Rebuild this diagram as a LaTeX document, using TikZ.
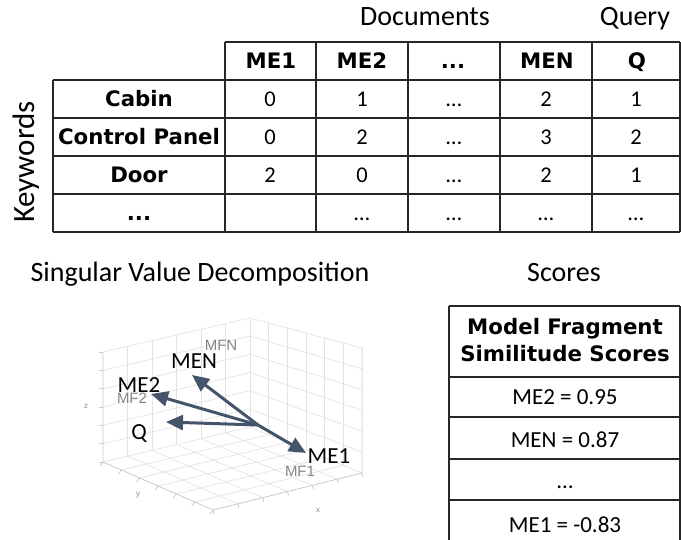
\documentclass[tikz,border=0pt]{standalone}
\usepackage{fontspec}
\setmainfont{Carlito}
\newfontfamily\headfont{DejaVu Sans}
\newfontfamily\plotfont{Liberation Sans}
\usetikzlibrary{arrows.meta,calc}
\definecolor{vec}{HTML}{44546A}
\definecolor{gridc}{HTML}{E3E3E3}
\definecolor{framec}{HTML}{CACACA}
\definecolor{mflabel}{HTML}{858585}

\begin{document}
\begin{tikzpicture}[x=1pt,y=-1pt,
  title/.style={font=\fontsize{28}{31}\selectfont, inner sep=0, anchor=base},
  hdr/.style={font=\headfont\bfseries\fontsize{21.3}{24}\selectfont, inner sep=0, anchor=base},
  val/.style={font=\fontsize{22.5}{24}\selectfont, inner sep=0, anchor=base},
  score/.style={font=\fontsize{23}{26}\selectfont, inner sep=0, anchor=base},
  rule/.style={line width=1.4pt, draw=black!85},
  gridline/.style={draw=gridc, line width=0.7pt},
  frameline/.style={draw=framec, line width=0.8pt},
  vector/.style={draw=vec, line width=3pt, -{Triangle[length=17pt,width=15pt]}},
  ptlabel/.style={font=\fontsize{23}{26}\selectfont, inner sep=0},
  mflab/.style={font=\plotfont\fontsize{15}{17}\selectfont, text=mflabel, inner sep=0},
  axlab/.style={font=\plotfont\fontsize{8}{9}\selectfont, text=black!45, inner sep=0}
]
\useasboundingbox (0,0) rectangle (681,540);

% ---------- section titles ----------
\node[title] (tdocs) at (425,26) {Documents};
\node[title] (tquery) at (635,26) {Query};
\node[title] (tsvd) at (200,282) {Singular Value Decomposition};
\node[title] (tscores) at (564,282) {Scores};
\node[font=\fontsize{31}{34}\selectfont, rotate=90, inner sep=0] (tkw) at (26,162) {Keywords};

% ---------- term-document matrix ----------
\draw[rule] (225,42) -- (680,42);
\foreach \yy in {80,118,156,194,232} \draw[rule] (53,\yy) -- (680,\yy);
\draw[rule] (53,80) -- (53,232);
\foreach \xx in {225,316,408,500,592,680} \draw[rule] (\xx,42) -- (\xx,232);

% column headers
\node[hdr] (hme1) at (271,69) {ME1};
\node[hdr] (hme2) at (362,69) {ME2};
\node[hdr] (hdots) at (453,69) {...};
\node[hdr] (hmen) at (547,69) {MEN};
\node[hdr] (hq) at (637,69) {Q};

% row headers
\node[hdr] (kcabin) at (139,107) {Cabin};
\node[hdr] (kpanel) at (139,145) {Control Panel};
\node[hdr] (kdoor) at (139,183) {Door};
\node[hdr] (kdots) at (139,221) {...};

% counts
\node[val] (c11) at (270,107) {0};
\node[val] (c12) at (362,107) {1};
\node[val] (c13) at (454,107) {…};
\node[val] (c14) at (546,107) {2};
\node[val] (c15) at (636,107) {1};
\node[val] (c21) at (270,145) {0};
\node[val] (c22) at (362,145) {2};
\node[val] (c23) at (454,145) {…};
\node[val] (c24) at (546,145) {3};
\node[val] (c25) at (636,145) {2};
\node[val] (c31) at (270,183) {2};
\node[val] (c32) at (362,183) {0};
\node[val] (c33) at (454,183) {…};
\node[val] (c34) at (546,183) {2};
\node[val] (c35) at (636,183) {1};
\node[val] (c42) at (362,221) {…};
\node[val] (c43) at (454,221) {…};
\node[val] (c44) at (546,221) {…};
\node[val] (c45) at (636,221) {…};

% ---------- scores table ----------
\draw[rule] (449,306) -- (680,306);
\foreach \yy in {377,417,459,500} \draw[rule] (449,\yy) -- (680,\yy);
\draw[rule] (449,306) -- (449,541);
\draw[rule] (680,306) -- (680,541);
\node[hdr] (shead1) at (565,335) {Model Fragment};
\node[hdr] (shead2) at (565,362) {Similitude Scores};
\node[score] (s1) at (565,405) {ME2 = 0.95};
\node[score] (s2) at (565,447) {MEN = 0.87};
\node[score] (s3) at (565,488) {…};
\node[score] (s4) at (565,532) {ME1 = -0.83};

% ---------- 3-D plot box ----------
\coordinate (A) at (103,352);
\coordinate (B) at (250,318);
\coordinate (C) at (362,348);
\coordinate (D) at (103,462);
\coordinate (G) at (250,427);
\coordinate (F) at (362,473);
\coordinate (E) at (213,510);

% back-left wall
\foreach \i in {1,...,5} {
  \draw[gridline] ($(A)!\i/6!(B)$) -- ($(D)!\i/6!(G)$);
  \draw[gridline] ($(A)!\i/6!(D)$) -- ($(B)!\i/6!(G)$);
}
% back-right wall
\foreach \i in {1,...,5} {
  \draw[gridline] ($(B)!\i/6!(C)$) -- ($(G)!\i/6!(F)$);
  \draw[gridline] ($(B)!\i/6!(G)$) -- ($(C)!\i/6!(F)$);
}
% floor
\foreach \i in {1,...,5} {
  \draw[gridline] ($(D)!\i/6!(E)$) -- ($(G)!\i/6!(F)$);
  \draw[gridline] ($(D)!\i/6!(G)$) -- ($(E)!\i/6!(F)$);
}
\draw[gridline] (B) -- (G);
\draw[gridline] (D) -- (G) -- (F);
\draw[gridline] (A) -- (B) -- (C);
\draw[frameline] (A) -- (D) -- (E) -- (F) -- (C);

% tick marks
\foreach \i in {0,...,6} {
  \draw[frameline] ($(A)!\i/6!(D)$) -- ++(-4,0);
  \draw[frameline] ($(D)!\i/6!(E)$) -- ++(-3,4);
  \draw[frameline] ($(E)!\i/6!(F)$) -- ++(1,4);
}
\node[axlab] (zlab) at (86,406) {z};
\node[axlab] (ylab) at (138,495) {y};
\node[axlab] (xlab) at (318,510) {x};

% ---------- vectors ----------
\coordinate (O) at (258,425);
\coordinate (pMEN) at (192,375);
\coordinate (pME2) at (151,394);
\coordinate (pQ) at (166,422);
\coordinate (pME1) at (306,453);
\draw[vector] (O) -- (pMEN);
\draw[vector] (O) -- (pME2);
\draw[vector] (O) -- (pQ);
\draw[vector] (O) -- (pME1);

\node[mflab] (mfn) at (221,345) {MFN};
\node[ptlabel] (lmen) at (194,361) {MEN};
\node[mflab] (mf2) at (132,398) {MF2};
\node[ptlabel] (lme2) at (139,385) {ME2};
\node[ptlabel] (lq) at (139,434) {Q};
\node[ptlabel] (lme1) at (329,456) {ME1};
\node[mflab] (mf1) at (300,471) {MF1};
\end{tikzpicture}
\end{document}
